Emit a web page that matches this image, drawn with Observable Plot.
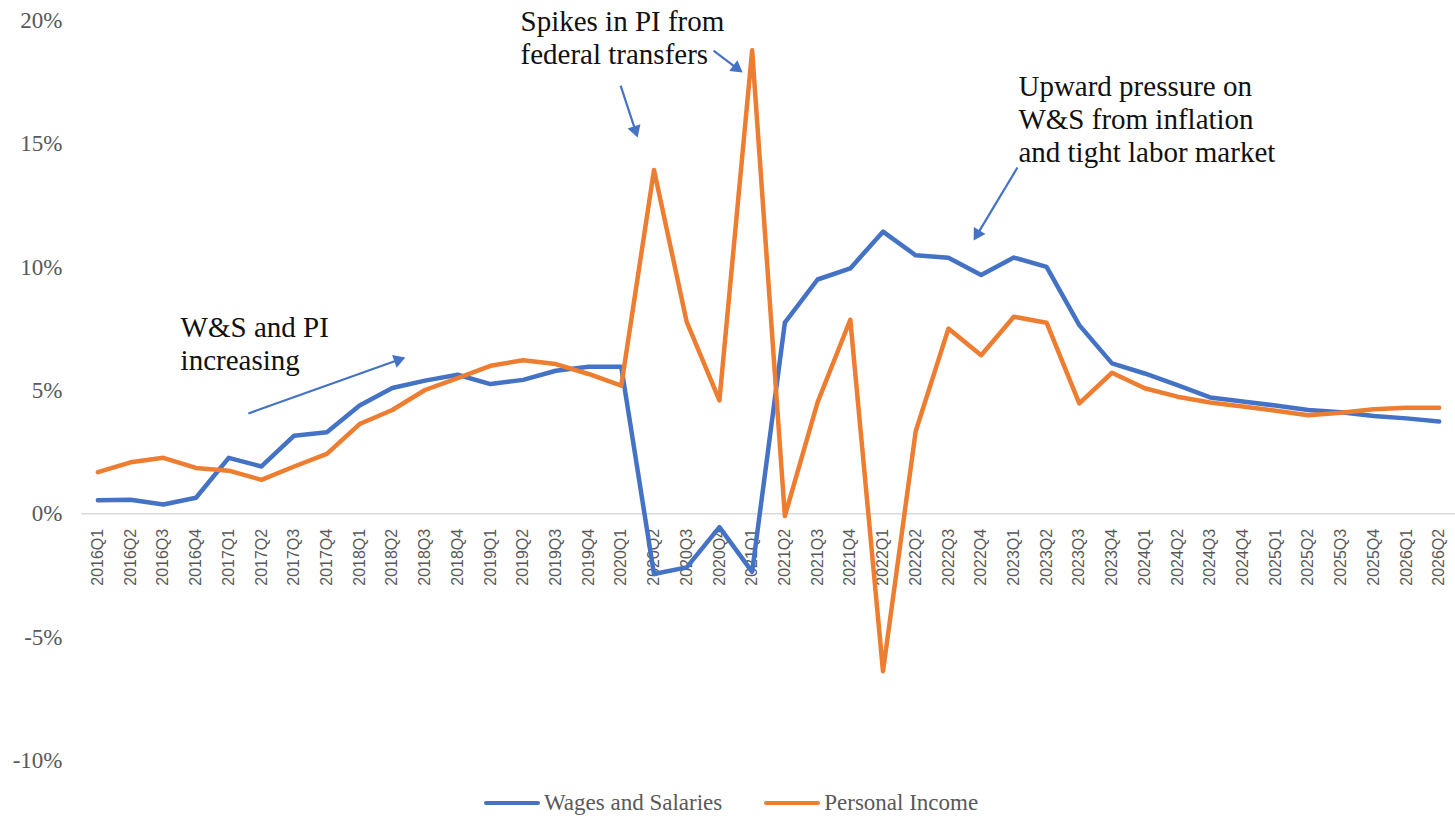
<!DOCTYPE html>
<html>
<head>
<meta charset="utf-8">
<script src="https://cdn.jsdelivr.net/npm/d3@7"></script>
<script src="https://cdn.jsdelivr.net/npm/@observablehq/plot@0.6"></script>
<style>
  html, body { margin: 0; padding: 0; background: #fff; }
  #wrap { position: relative; width: 1455px; height: 825px; overflow: hidden; }
  #legend { position: absolute; top: 790px; left: 484px; display: flex; align-items: center;
            font-family: "Liberation Serif", "Times New Roman", Times, "DejaVu Serif", serif; font-size: 23px; color: #595959; }
  .sw { display: inline-block; width: 56px; height: 4px; border-radius: 2px; margin-right: 4px; }
  .item { display: flex; align-items: center; margin-right: 42px; }
</style>
</head>
<body>
<div id="wrap">
  <div id="chart"></div>
  <div id="legend">
    <div class="item"><span class="sw" style="background:#4472C4"></span><span>Wages and Salaries</span></div>
    <div class="item"><span class="sw" style="background:#ED7D31"></span><span>Personal Income</span></div>
  </div>
</div>
<script>
// ---- Data ----
const quarters = [
  "2016Q1","2016Q2","2016Q3","2016Q4",
  "2017Q1","2017Q2","2017Q3","2017Q4",
  "2018Q1","2018Q2","2018Q3","2018Q4",
  "2019Q1","2019Q2","2019Q3","2019Q4",
  "2020Q1","2020Q2","2020Q3","2020Q4",
  "2021Q1","2021Q2","2021Q3","2021Q4",
  "2022Q1","2022Q2","2022Q3","2022Q4",
  "2023Q1","2023Q2","2023Q3","2023Q4",
  "2024Q1","2024Q2","2024Q3","2024Q4",
  "2025Q1","2025Q2","2025Q3","2025Q4",
  "2026Q1","2026Q2"
];
// Wages and Salaries, % growth
const wagesSalaries = [
  0.55, 0.57, 0.38, 0.65,
  2.27, 1.92, 3.17, 3.31,
  4.39, 5.10, 5.40, 5.64,
  5.26, 5.43, 5.80, 5.96,
  5.96, -2.44, -2.17, -0.54,
  -2.35, 7.75, 9.50, 9.95,
  11.44, 10.48, 10.38, 9.68,
  10.39, 10.01, 7.65, 6.10,
  5.69, 5.22, 4.72, 4.55,
  4.39, 4.21, 4.12, 3.97,
  3.87, 3.74
];
// Personal Income, % growth
const personalIncome = [
  1.69, 2.09, 2.27, 1.86,
  1.75, 1.38, 1.92, 2.43,
  3.64, 4.21, 5.02, 5.50,
  6.00, 6.23, 6.07, 5.67,
  5.20, 13.94, 7.78, 4.60,
  18.79, -0.09, 4.52, 7.87,
  -6.38, 3.35, 7.51, 6.43,
  7.99, 7.75, 4.48, 5.72,
  5.09, 4.75, 4.51, 4.35,
  4.18, 4.00, 4.10, 4.24,
  4.30, 4.30
];
const yTicks = [-10, -5, 0, 5, 10, 15, 20];

// Annotations (x in quarter-index units, y in % units, top of first line)
const noteTexts = [
  "W&S and PI\nincreasing",
  "Spikes in PI from\nfederal transfers",
  "Upward pressure on\nW&S from inflation\nand tight labor market"
];
const noteX = [2.53, 12.92, 28.14];
const noteY = [8.14, 20.51, 17.91];

// Arrows: start (x1, y1) and tip (x2, y2)
const arrowX1 = [4.60, 15.98, 18.82, 28.11];
const arrowY1 = [4.07, 17.36, 18.78, 14.04];
const arrowX2 = [9.40, 16.50, 19.71, 26.77];
const arrowY2 = [6.34, 15.26, 17.89, 11.08];

const SERIF = "'Liberation Serif', 'Times New Roman', Times, 'DejaVu Serif', serif";
const BLUE = "#4472C4", ORANGE = "#ED7D31";

// ---- Tables built from arrays ----
const wsRows = quarters.map((q, i) => ({i, q, v: wagesSalaries[i]}));
const piRows = quarters.map((q, i) => ({i, q, v: personalIncome[i]}));
const notes = noteTexts.map((t, k) => ({t, x: noteX[k], y: noteY[k]}));

const baseOptions = {
  width: 1455,
  height: 780,
  marginLeft: 81,
  marginRight: 0,
  marginTop: 20,
  marginBottom: 20,
  x: {type: "linear", domain: [-0.5, quarters.length - 0.5], axis: null},
  y: {domain: [-10, 20], axis: null},
  style: {overflow: "visible", background: "white"}
};

// Scales from the library, used to orient the arrow heads
const probe = Plot.plot({...baseOptions, marks: [Plot.ruleY([0])]});
const sx = probe.scale("x"), sy = probe.scale("y");
const HEAD_TIP = 7.8, HEAD_LEN = 11.5;
const arrows = arrowX1.map((x1, k) => {
  const px1 = sx.apply(x1), py1 = sy.apply(arrowY1[k]);
  const px2 = sx.apply(arrowX2[k]), py2 = sy.apply(arrowY2[k]);
  const L = Math.hypot(px2 - px1, py2 - py1);
  const ux = (px2 - px1) / L, uy = (py2 - py1) / L;
  return {
    x1, y1: arrowY1[k],
    sx2: sx.invert(px2 - ux * HEAD_LEN * 0.8), sy2: sy.invert(py2 - uy * HEAD_LEN * 0.8),
    cx: sx.invert(px2 - ux * HEAD_TIP), cy: sy.invert(py2 - uy * HEAD_TIP),
    rot: Math.atan2(ux, -uy) * 180 / Math.PI
  };
});

const chart = Plot.plot({
  ...baseOptions,
  marks: [
    Plot.ruleY([0], {stroke: "#d9d9d9", strokeWidth: 1.5}),
    Plot.axisY({
      ticks: yTicks, tickSize: 0, tickPadding: 19,
      tickFormat: d => d + "%",
      fontFamily: SERIF, fontSize: 23, fill: "#595959", label: null
    }),
    Plot.text(quarters, {
      x: (d, i) => i, y: () => 0, text: d => d,
      rotate: -90, textAnchor: "end", dy: 15,
      fontFamily: "Liberation Sans", fontSize: 16, fill: "#595959"
    }),
    Plot.line(wsRows, {x: "i", y: "v", stroke: BLUE, strokeWidth: 4.5, strokeLinejoin: "round"}),
    Plot.line(piRows, {x: "i", y: "v", stroke: ORANGE, strokeWidth: 4.5, strokeLinejoin: "round"}),
    Plot.link(arrows, {x1: "x1", y1: "y1", x2: "sx2", y2: "sy2", stroke: BLUE, strokeWidth: 2.2}),
    Plot.dot(arrows, {x: "cx", y: "cy", rotate: "rot", symbol: "triangle", r: 5, fill: BLUE, stroke: "none"}),
    Plot.text(notes, {
      x: "x", y: "y", text: "t", textAnchor: "start", lineAnchor: "top",
      fontFamily: SERIF, fontSize: 29, lineHeight: 1.14, fill: "#111"
    })
  ]
});
document.getElementById("chart").appendChild(chart);
</script>
</body>
</html>
